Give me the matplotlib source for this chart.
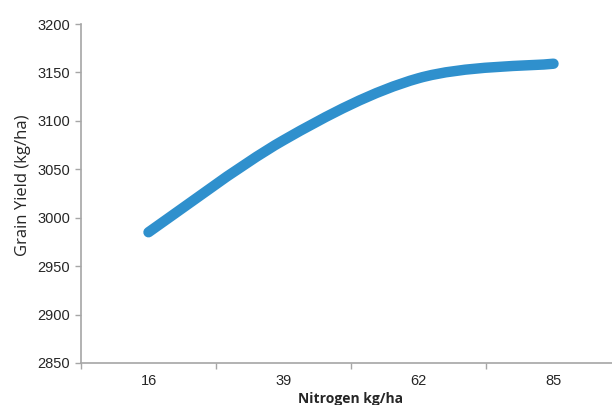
import matplotlib
matplotlib.use("Agg")

import numpy as np
import matplotlib.pyplot as plt
from matplotlib.path import Path
from matplotlib.patches import PathPatch

# nitrogen rate categories and grain yield
nitrogen = ["16", "39", "62", "85"]
grain_yield = [2985, 3080, 3144, 3159]

LINE = "#2f90cd"
AXIS = "#a6a6a6"
TEXT = "#262626"


def smooth_path(xs, ys, k=1 / 6):
    """Excel-style smoothed line: cubic beziers through the points."""
    pts = np.column_stack([xs, ys]).astype(float)
    n = len(pts)
    verts = [pts[0]]
    codes = [Path.MOVETO]
    for i in range(n - 1):
        p0 = pts[max(i - 1, 0)]
        p1 = pts[i]
        p2 = pts[i + 1]
        p3 = pts[min(i + 2, n - 1)]
        verts += [p1 + (p2 - p0) * k, p2 - (p3 - p1) * k, p2]
        codes += [Path.CURVE4] * 3
    return Path(verts, codes)


fig = plt.figure(figsize=(6.12, 4.05), dpi=100)
ax = fig.add_axes([81 / 612, 42 / 405, 540 / 612, 339 / 405])

x = np.arange(len(nitrogen))
ax.add_patch(PathPatch(smooth_path(x, grain_yield), facecolor="none",
                       edgecolor=LINE, linewidth=7.5, capstyle="round",
                       joinstyle="round"))

ax.set_xlim(-0.5, len(nitrogen) - 0.5)
ax.set_ylim(2850, 3200)
ax.set_yticks(np.arange(2850, 3201, 50))

# category axis: labels centred, tick marks on the boundaries
ax.set_xticks(x)
ax.set_xticklabels(nitrogen, fontsize=10.5, color=TEXT, family="Liberation Sans")
ax.set_xticks(np.arange(-0.5, len(nitrogen)), minor=True)
ax.tick_params(axis="x", which="major", length=0, pad=8)
ax.tick_params(axis="x", which="minor", length=4, width=1, color=AXIS,
               direction="out")
ax.tick_params(axis="y", length=4, width=1, color=AXIS, labelsize=10.5,
               labelcolor=TEXT, pad=4)
for lab in ax.get_yticklabels():
    lab.set_family("Liberation Sans")

for side in ("top", "right"):
    ax.spines[side].set_visible(False)
for side in ("left", "bottom"):
    ax.spines[side].set_color(AXIS)
    ax.spines[side].set_linewidth(1.2)

ax.set_ylabel("Grain Yield (kg/ha)", fontsize=12, color=TEXT,
              family="Open Sans")
ax.yaxis.set_label_coords(-0.093, 0.525)
ax.set_xlabel("Nitrogen kg/ha", fontsize=10, fontweight="bold", color=TEXT,
              family="Open Sans", labelpad=3)

fig.savefig("out.png", dpi=100)
